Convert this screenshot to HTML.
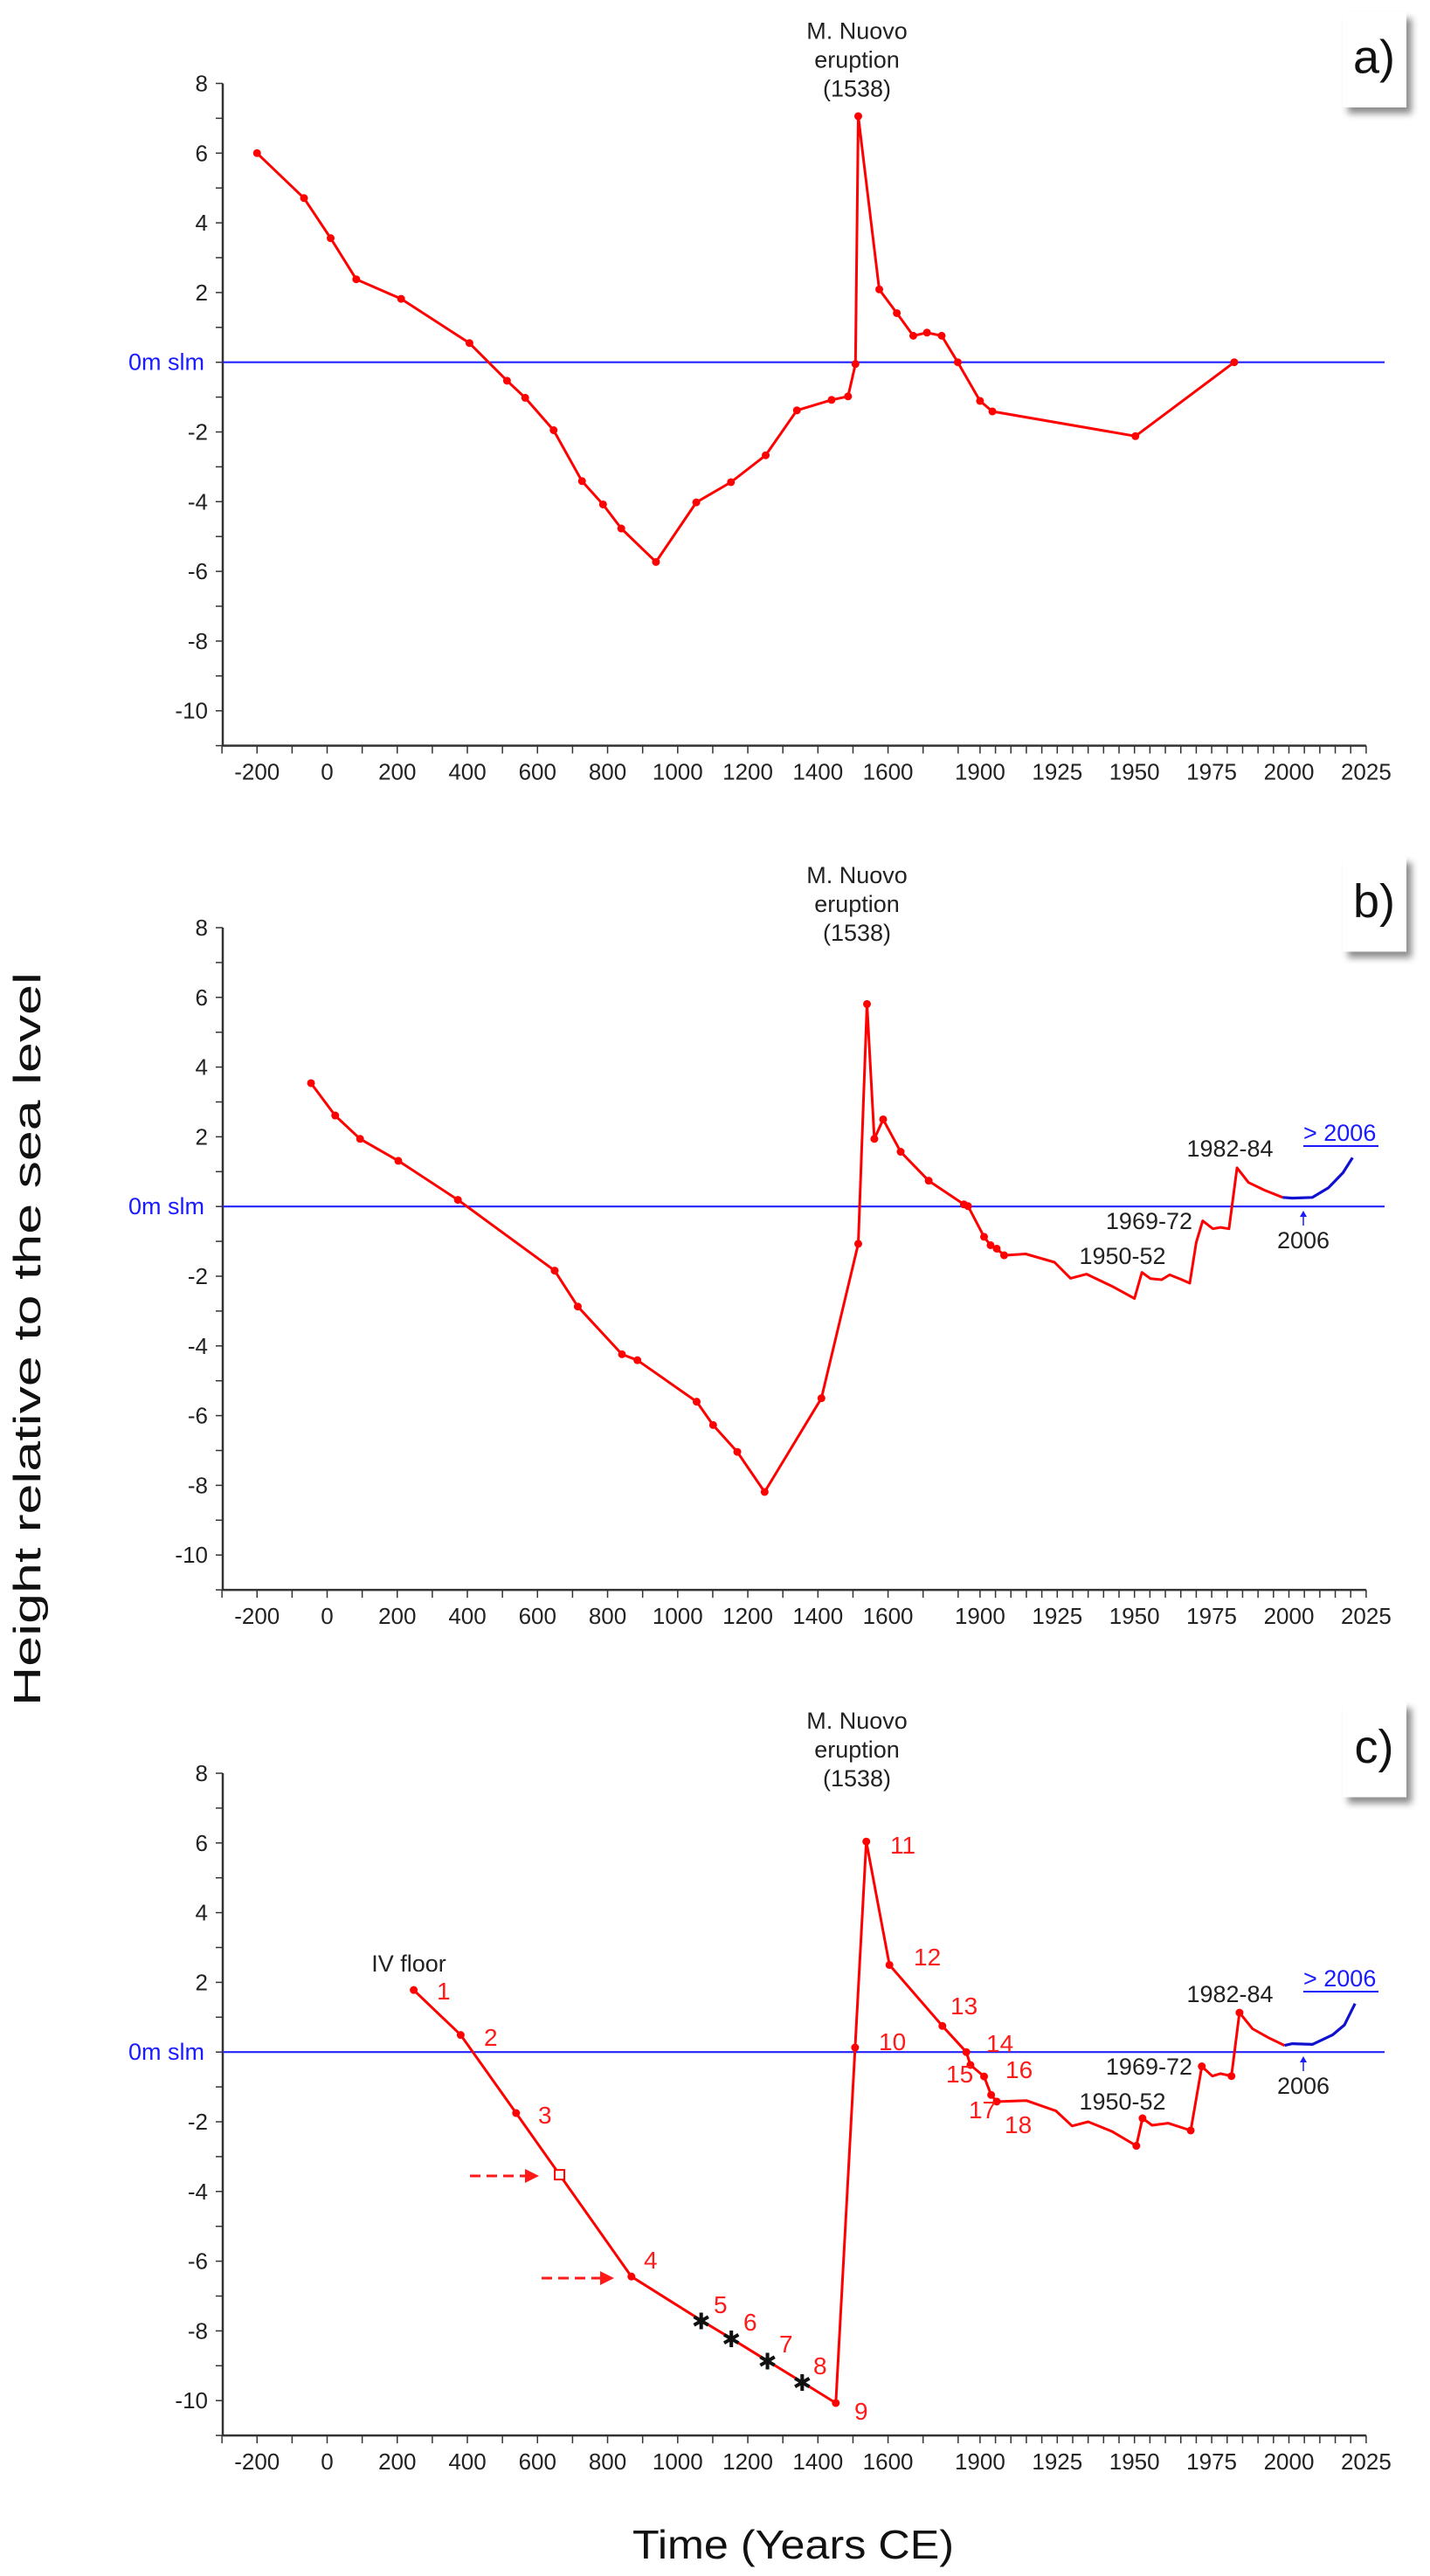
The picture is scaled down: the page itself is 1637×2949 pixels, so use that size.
<!DOCTYPE html>
<html><head><meta charset="utf-8"><title>Sea level history</title>
<style>
html,body{margin:0;padding:0;background:#fff;}
svg{display:block;}
.tk{font-family:"Liberation Sans",sans-serif;font-size:26px;fill:#222;}
.an{font-family:"Liberation Sans",sans-serif;font-size:27px;fill:#222;}
.rn{font-family:"Liberation Sans",sans-serif;font-size:28px;fill:#ff1a1a;}
</style></head>
<body>
<svg id="chart" xmlns="http://www.w3.org/2000/svg" width="1637" height="2949" viewBox="0 0 1637 2949">
<defs>
<filter id="sh" x="-30%" y="-30%" width="160%" height="160%"><feDropShadow dx="6" dy="7" stdDeviation="4" flood-color="#000" flood-opacity="0.45"/></filter>
</defs>
<text transform="translate(46,1533) rotate(-90)" text-anchor="middle" font-family="Liberation Sans, sans-serif" font-size="44" fill="#111" textLength="840" lengthAdjust="spacingAndGlyphs">Height relative to the sea level</text>
<text x="908" y="2929" text-anchor="middle" font-family="Liberation Sans, sans-serif" font-size="46" fill="#111" textLength="368" lengthAdjust="spacingAndGlyphs">Time (Years CE)</text>
<g id="panels"></g>
</svg>
<script>
// ---- data ----
const yTickValues = [8,6,4,2,-2,-4,-6,-8,-10];
const xTickLabels = ["-200","0","200","400","600","800","1000","1200","1400","1600","1900","1925","1950","1975","2000","2025"];
const xTickYears = [-200,0,200,400,600,800,1000,1200,1400,1600,1900,1925,1950,1975,2000,2025];
const panelLetters = ["a)","b)","c)"];

// Panel a
const yearsA = [-200,-66,10,83,211,406,513,565,646,727,787,839,938,1053,1152,1251,1340,1439,1486,1507,1515,1575,1625,1672,1711,1753,1799,1900,1904,1950.3,1982.3];
const heightA = [6.0,4.71,3.56,2.38,1.82,0.55,-0.53,-1.02,-1.95,-3.41,-4.08,-4.77,-5.73,-4.02,-3.44,-2.67,-1.38,-1.08,-0.98,-0.05,7.06,2.09,1.41,0.76,0.85,0.76,0.0,-1.11,-1.41,-2.12,0.0];

// Panel b
const yearsB = [-46,23,94,203,373,649,715,841,885,1054,1101,1170,1248,1410,1515,1540,1561,1586,1636,1716,1826,1845,1901.3,1903.4,1905.4,1907.8,1914.8,1924.1,1929.3,1934.5,1942.8,1950.0,1952.4,1955.2,1958.8,1961.4,1965.1,1967.9,1970.0,1972.1,1975.4,1977.8,1980.6,1983.2,1986.9,1992.0,1998.0];
const heightB = [3.54,2.61,1.94,1.31,0.19,-1.84,-2.87,-4.24,-4.41,-5.6,-6.27,-7.04,-8.19,-5.5,-1.07,5.81,1.94,2.5,1.57,0.74,0.06,0.01,-0.87,-1.11,-1.21,-1.4,-1.36,-1.6,-2.06,-1.94,-2.29,-2.64,-1.89,-2.07,-2.1,-1.96,-2.09,-2.2,-1.03,-0.41,-0.64,-0.6,-0.64,1.11,0.69,0.47,0.26];
const dotsB = [1,1,1,1,1,1,1,1,1,1,1,1,1,1,1,1,1,1,1,1,1,1,1,1,1,1,0,0,0,0,0,0,0,0,0,0,0,0,0,0,0,0,0,0,0,0,0];
const blueYearsB = [1998.0,2001.1,2007.6,2012.8,2017.5,2020.6];
const blueHeightB = [0.26,0.24,0.26,0.54,0.97,1.4];

// Panel c
const yearsC = [247,381,539,663,868,1067,1153,1256,1355,1451,1506,1538,1604,1755,1837,1856,1901.3,1903.6,1905.4,1915.0,1924.6,1929.8,1935.0,1942.8,1950.6,1952.6,1955.7,1960.9,1968.2,1971.8,1975.2,1977.8,1981.4,1984.0,1988.2,1993.4,1998.6];
const heightC = [1.78,0.49,-1.75,-3.52,-6.44,-7.7,-8.22,-8.86,-9.47,-10.07,0.13,6.04,2.5,0.75,0.0,-0.37,-0.7,-1.23,-1.42,-1.39,-1.69,-2.12,-2.0,-2.28,-2.69,-1.9,-2.1,-2.04,-2.25,-0.41,-0.69,-0.62,-0.69,1.13,0.67,0.41,0.19];
const markerC = ["dot","dot","dot","square","dot","star","star","star","star","dot","dot","dot","dot","dot","dot","dot","dot","dot","dot","","","","","","dot","dot","","","dot","dot","","","dot","dot","","",""];
const blueYearsC = [1998.6,2001.1,2007.6,2014.1,2018.0,2021.4];
const blueHeightC = [0.19,0.24,0.22,0.49,0.78,1.39];
const pointLabelsC = ["1","2","3","4","5","6","7","8","9","10","11","12","13","14","15","16","17","18"];

// ---- axes helpers ----
const NS = "http://www.w3.org/2000/svg";
function xs(yr){ if(yr<=1800) return 374.5+yr*0.4013; if(yr<=1900) return 1096.9+(yr-1800)*0.25; return 1121.9+(yr-1900)*3.536; }
const UNIT = 39.9;
function mk(tag, attrs, parent){ const e=document.createElementNS(NS,tag); for(const k in attrs) e.setAttribute(k,attrs[k]); parent.appendChild(e); return e; }
const root = document.getElementById('panels');
const panelTops = [95.5,1062,2030];

function drawPanel(pi, years, heights, dotsFn, blueYears, blueHeights){
  const y8 = panelTops[pi];
  const ys = v => y8 + (8 - v) * UNIT;
  const g = mk('g',{},root);
  
  
  const axX = 255, axB = ys(-11), axR = xs(2025);
  const ya = mk('line',{x1:axX,y1:ys(8),x2:axX,y2:axB,stroke:'#333','stroke-width':2.5},g);
  
  
  for(let v=8; v>=-11; v--){
    mk('line',{x1:axX-8,y1:ys(v),x2:axX,y2:ys(v),stroke:'#333','stroke-width':1.5},g);
  }
  yTickValues.forEach(v=>{
    const t = mk('text',{x:238,y:ys(v)+9,'text-anchor':'end','class':'tk'},g);
    
    
    t.textContent = String(v);
  });
  const zl = mk('text',{x:234,y:ys(0)+9,'text-anchor':'end','class':'tk'},g);
  
  
  zl.style.fill = '#1a1aff';
  zl.style.fontSize = '27px';
  zl.textContent = '0m slm';
  const xa = mk('line',{x1:axX,y1:axB,x2:axR,y2:axB,stroke:'#333','stroke-width':2.5},g);
  
  
  const tickYears = [];
  for(let y=-300;y<=1800;y+=100) tickYears.push(y);
  for(let y=1900;y<=2025;y+=5) tickYears.push(y);
  tickYears.forEach(y=>{
    mk('line',{x1:xs(y),y1:axB,x2:xs(y),y2:axB+9,stroke:'#333','stroke-width':1.5},g);
  });
  xTickYears.forEach((yr,i)=>{
    const t = mk('text',{x:xs(yr),y:axB+39,'text-anchor':'middle','class':'tk'},g);
    
    
    t.textContent = xTickLabels[i];
  });
  const zline = mk('line',{x1:axX,y1:ys(0),x2:1585,y2:ys(0),stroke:'#2222ff','stroke-width':2.2},g);
  
  
  const ann = ['M. Nuovo','eruption','(1538)'];
  ann.forEach((s,i)=>{
    const t = mk('text',{x:981,y:y8-51+i*33,'text-anchor':'middle','class':'tk',style:'font-size:27px'},g);
    
    
    t.textContent = s;
  });
  const bx = mk('rect',{x:1537,y:y8-81.5,width:73,height:109,fill:'#fff',filter:'url(#sh)'},g);
  
  
  const pl = mk('text',{x:1573,y:y8-12,'text-anchor':'middle','font-family':'Liberation Sans, sans-serif','font-size':54,fill:'#111'},g);
  
  
  pl.textContent = panelLetters[pi];
  const pts = years.map((yr,i)=>xs(yr).toFixed(1)+','+ys(heights[i]).toFixed(1)).join(' ');
  const pl2 = mk('polyline',{points:pts,fill:'none',stroke:'#ff0000','stroke-width':3,'stroke-linejoin':'round'},g);
  
  
  years.forEach((yr,i)=>{
    const m = dotsFn(i);
    const cx = xs(yr), cy = ys(heights[i]);
    if(m==='dot'){
      const c = mk('circle',{cx:cx,cy:cy,r:4.5,fill:'#ff0000'},g);
      
      
    } else if(m==='square'){
      const r = mk('rect',{x:cx-5.5,y:cy-5.5,width:11,height:11,fill:'#fff',stroke:'#ff0000','stroke-width':2},g);
      
      
    } else if(m==='star'){
      const s = mk('text',{x:cx,y:cy+10,'text-anchor':'middle','font-family':'DejaVu Sans, sans-serif','font-size':26,'font-weight':'bold',fill:'#111'},g);
      
      
      s.textContent = '✱';
    }
  });
  if(blueYears){
    const bp = blueYears.map((yr,i)=>xs(yr).toFixed(1)+','+ys(blueHeights[i]).toFixed(1)).join(' ');
    const bl = mk('polyline',{points:bp,fill:'none',stroke:'#1010d0','stroke-width':3.2,'stroke-linejoin':'round'},g);
    
    
    const lbls = [['1982-84',1408,y8+262,'middle','#222'],['1969-72',1365,y8+345,'end','#222'],['2006',1492,y8+367,'middle','#222'],['1950-52',1285,y8+385,'middle','#222'],['> 2006',1492,y8+244,'start','#1a1aff']];
    lbls.forEach(l=>{
      const t = mk('text',{x:l[1],y:l[2],'text-anchor':l[3],'class':'an'},g);
      
      
      t.style.fill = l[4];
      t.textContent = l[0];
    });
    mk('line',{x1:1492,y1:y8+250,x2:1578,y2:y8+250,stroke:'#1a1aff','stroke-width':2},g);
    mk('line',{x1:1492,y1:y8+341,x2:1492,y2:y8+328,stroke:'#1a1aff','stroke-width':1.5},g);
    mk('polygon',{points:`1488,${y8+331} 1496,${y8+331} 1492,${y8+324}`,fill:'#1a1aff'},g);
  }
  return {g, ys};
}

drawPanel(0, yearsA, heightA, i=>'dot', null, null);
drawPanel(1, yearsB, heightB, i=>dotsB[i]?'dot':'', blueYearsB, blueHeightB);
const pc = drawPanel(2, yearsC, heightC, i=>markerC[i], blueYearsC, blueHeightC);

const labelPos = [[500,2279],[554,2332],[616,2421],[737,2587],[817,2638],[851,2658],[892,2683],[931,2708],[978,2760],[1006,2337],[1019,2112],[1046,2240],[1088,2296],[1129,2339],[1083,2374],[1151,2369],[1109,2415],[1150,2432]];
pointLabelsC.forEach((s,i)=>{
  const t = mk('text',{x:labelPos[i][0],y:labelPos[i][1]+10,'class':'rn'},pc.g);
  
  
  t.textContent = s;
});
const iv = mk('text',{x:468,y:2257,'text-anchor':'middle','class':'an'},pc.g);


iv.textContent = 'IV floor';
[[538,617,2491],[620,703,2608]].forEach(a=>{
  const l = mk('line',{x1:a[0],y1:a[2],x2:a[1]-12,y2:a[2],stroke:'#ff1a1a','stroke-width':3,'stroke-dasharray':'12,7'},pc.g);
  
  
  mk('polygon',{points:`${a[1]},${a[2]} ${a[1]-16},${a[2]-8} ${a[1]-16},${a[2]+8}`,fill:'#ff1a1a'},pc.g);
});
</script>
</body></html>
